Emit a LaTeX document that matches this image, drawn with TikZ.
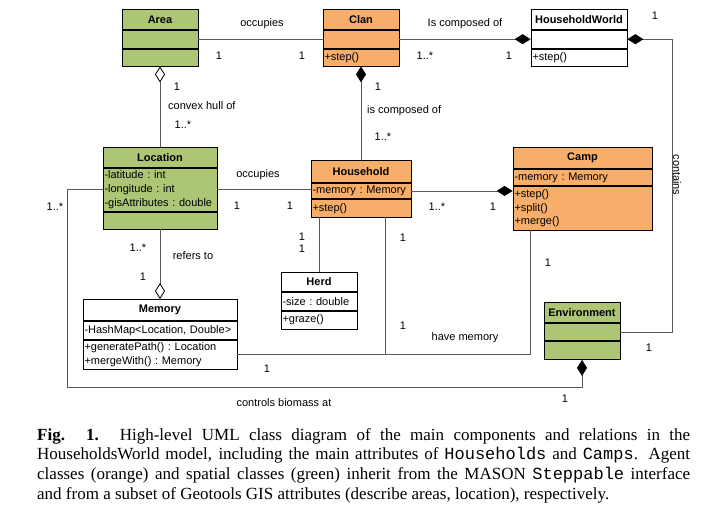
\documentclass[tikz,border=0pt]{standalone}
\usepackage{fontspec}
\setmainfont{Liberation Serif}
\setsansfont{Liberation Sans}
\setmonofont{Liberation Mono}
\usetikzlibrary{positioning,arrows.meta}
\definecolor{spatialgreen}{RGB}{172,198,118}
\definecolor{agentorange}{RGB}{247,174,106}
\newcommand{\umlfont}{\sffamily\fontsize{11}{13.6}\selectfont\frenchspacing}
\tikzset{
	part/.style={draw=black, line width=0.8pt, anchor=north, inner xsep=1.5pt, inner ysep=0pt, align=left, font=\umlfont},
	head/.style={part, align=center, font=\umlfont\bfseries},
	spatial/.style={fill=spatialgreen},
	agent/.style={fill=agentorange},
	plain/.style={fill=white},
	assoc/.style={draw=black!65, line width=0.8pt},
	comp/.style={assoc, -{Diamond[length=16pt,width=10pt,color=black]}},
	aggr/.style={assoc, -{Diamond[open,length=16pt,width=10pt,color=black]}},
	lbl/.style={font=\umlfont, inner sep=0pt},
}
\begin{document}
\begin{tikzpicture}[x=1pt, y=-1pt, node distance=0pt]
	\useasboundingbox (0,0) rectangle (718,523);

%	classes: head, attributes, methods
	\node[head, spatial, text width=73pt, minimum height=20pt] (area) at (160,9) {Area};
	\node[part, spatial, text width=73pt, minimum height=18pt, below=of area] (area-a) {};
	\node[part, spatial, text width=73pt, minimum height=17pt, below=of area-a] (area-m) {};

	\node[head, agent, text width=73pt, minimum height=20pt] (clan) at (361,9) {Clan};
	\node[part, agent, text width=73pt, minimum height=18pt, below=of clan] (clan-a) {};
	\node[part, agent, text width=73pt, minimum height=17pt, below=of clan-a] (clan-m) {+step()};

	\node[head, plain, text width=93pt, minimum height=20pt] (hw) at (579,9) {HouseholdWorld};
	\node[part, plain, text width=93pt, minimum height=18pt, below=of hw] (hw-a) {};
	\node[part, plain, text width=93pt, minimum height=17pt, below=of hw-a] (hw-m) {+step()};

	\node[head, spatial, text width=111pt, minimum height=20pt] (location) at (160,147) {Location};
	\node[part, spatial, text width=111pt, minimum height=43pt, below=of location] (location-a) {-latitude : int\\-longitude : int\\-gisAttributes : double};
	\node[part, spatial, text width=111pt, minimum height=17pt, below=of location-a] (location-m) {};

	\node[head, agent, text width=97pt, minimum height=22pt] (household) at (361,160) {Household};
	\node[part, agent, text width=97pt, minimum height=15.5pt, below=of household] (household-a) {-memory : Memory};
	\node[part, agent, text width=97pt, minimum height=17.5pt, below=of household-a] (household-m) {+step()};

	\node[head, agent, text width=136pt, minimum height=21pt] (camp) at (582.5,147) {Camp};
	\node[part, agent, text width=136pt, minimum height=16.5pt, below=of camp] (camp-a) {-memory : Memory};
	\node[part, agent, text width=136pt, minimum height=43.5pt, below=of camp-a] (camp-m) {+step()\\+split()\\+merge()};

	\node[head, plain, text width=151pt, minimum height=21pt] (memory) at (160,299) {Memory};
	\node[part, plain, text width=151pt, minimum height=18pt, below=of memory] (memory-a) {-HashMap<Location, Double>};
	\node[part, plain, text width=151pt, minimum height=29pt, below=of memory-a] (memory-m) {+generatePath() : Location\\+mergeWith() : Memory};

	\node[head, plain, text width=73pt, minimum height=19pt] (herd) at (319,272) {Herd};
	\node[part, plain, text width=73pt, minimum height=18pt, below=of herd] (herd-a) {-size : double};
	\node[part, plain, text width=73pt, minimum height=18pt, below=of herd-a] (herd-m) {+graze()};

	\node[head, spatial, text width=73pt, minimum height=20pt] (env) at (582,302) {Environment};
	\node[part, spatial, text width=73pt, minimum height=17.5pt, below=of env] (env-a) {};
	\node[part, spatial, text width=73pt, minimum height=18pt, below=of env-a] (env-m) {};

%	relations
	\coordinate (cx) at (672,0);
	\coordinate (cbcorner) at (67,387);
	\coordinate (campfoot) at ([xshift=18pt]camp-m.south west);
	\coordinate (hhfoot) at ([xshift=24pt]household-m.south);

	\draw[assoc] (area-a.east) -- (clan-a.west);
	\draw[comp] (clan-a.east) -- (hw-a.west);
	\draw[comp] (env-a.east) -| (hw-a.east -| cx) -- (hw-a.east);
	\draw[aggr] (location.north) -- (area-m.south);
	\draw[comp] (household.north) -- (clan-m.south);
	\draw[assoc] (location-a.east) -- (location-a.east -| household.west);
	\draw[comp] (household-a.east) -- (household-a.east -| camp.west);
	\draw[aggr] (location-m.south) -- (memory.north);
	\draw[assoc] (herd.north |- household-m.south) -- (herd.north);
	\draw[assoc] (memory-m.east) -| (campfoot);
	\draw[assoc] (hhfoot) -- (hhfoot |- memory-m.east);
	\draw[comp] (location-a.west) -| (cbcorner) -| (env-m.south);

%	labels
	\node[lbl] (l1) at (262,24) {occupies};
	\node[lbl] (l2) at (219,56) {1};
	\node[lbl] (l3) at (302,56) {1};
	\node[lbl] (l4) at (465,24) {Is composed of};
	\node[lbl] (l5) at (425,56) {1..*};
	\node[lbl] (l6) at (509,56) {1};
	\node[lbl] (l7) at (655,16) {1};
	\node[lbl, rotate=-90] (l8) at (677,175) {contains};
	\node[lbl] (l9) at (649,348) {1};
	\node[lbl] (l10) at (177,87) {1};
	\node[lbl, anchor=west] (l11) at (168,106) {convex hull of};
	\node[lbl] (l12) at (183,125) {1..*};
	\node[lbl] (l13) at (378,87) {1};
	\node[lbl, anchor=west] (l14) at (367,111) {is composed of};
	\node[lbl] (l15) at (383,137) {1..*};
	\node[lbl] (l16) at (258,175) {occupies};
	\node[lbl] (l17) at (237,206) {1};
	\node[lbl] (l18) at (290,206) {1};
	\node[lbl] (l19) at (437,207) {1..*};
	\node[lbl] (l20) at (493,207) {1};
	\node[lbl] (l21) at (138,248) {1..*};
	\node[lbl] (l22) at (193,256) {refers to};
	\node[lbl] (l23) at (143,277) {1};
	\node[lbl] (l24) at (302,237) {1};
	\node[lbl] (l25) at (302,249) {1};
	\node[lbl] (l26) at (403,238) {1};
	\node[lbl] (l27) at (548,263) {1};
	\node[lbl] (l28) at (403,326) {1};
	\node[lbl] (l29) at (465,338) {have memory};
	\node[lbl] (l30) at (267,369) {1};
	\node[lbl] (l31) at (55,207) {1..*};
	\node[lbl] (l32) at (284,403) {controls biomass at};
	\node[lbl] (l33) at (565,399) {1};

	\node[anchor=north west, inner sep=0pt, text width=653pt, align=justify, font=\fontsize{17}{19.7}\selectfont] (caption) at (37,428) {\textbf{Fig. 1.} High-level UML class diagram of the main components and relations in the\linebreak HouseholdsWorld model, including the main attributes of \texttt{Households} and \texttt{Camps}. Agent\linebreak classes (orange) and spatial classes (green) inherit from the MASON \texttt{Steppable} interface\linebreak and from a subset of Geotools GIS attributes (describe areas, location), respectively.};
\end{tikzpicture}
\end{document}
